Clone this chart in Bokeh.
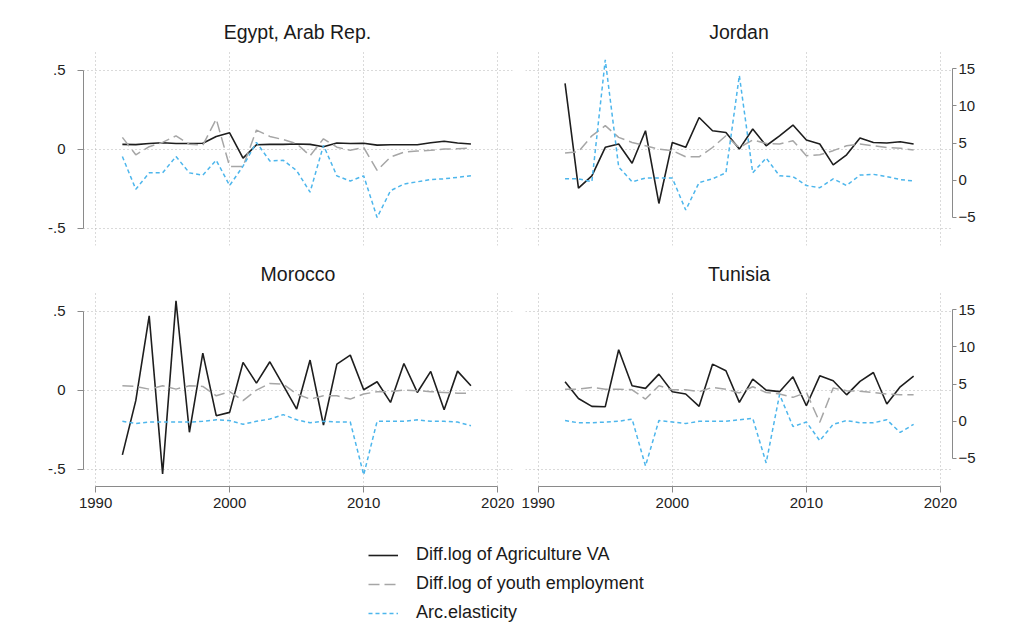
from bokeh.plotting import figure
from bokeh.models import Range1d, LinearAxis, FixedTicker, Legend, LegendItem
from bokeh.layouts import column, row
from bokeh.embed import file_html
from bokeh.resources import INLINE

years = list(range(1992, 2019))

# Diff.log of Agriculture value added (left axis)
egypt_agri = [0.03, 0.028, 0.035, 0.04, 0.035, 0.035, 0.037, 0.08, 0.103, -0.057, 0.027, 0.03, 0.03,
              0.032, 0.03, 0.015, 0.038, 0.035, 0.037, 0.025, 0.027, 0.027, 0.027, 0.04, 0.05, 0.038, 0.032]
jordan_agri = [0.416, -0.247, -0.169, 0.011, 0.032, -0.09, 0.116, -0.344, 0.042, 0.011, 0.2, 0.116, 0.105,
               0.0, 0.127, 0.021, 0.084, 0.152, 0.057, 0.032, -0.1, -0.036, 0.07, 0.042, 0.038, 0.046, 0.032]
morocco_agri = [-0.41, -0.067, 0.47, -0.53, 0.564, -0.267, 0.234, -0.162, -0.141, 0.175, 0.044, 0.179, 0.03,
                -0.12, 0.19, -0.221, 0.164, 0.221, 0.002, 0.053, -0.078, 0.168, -0.015, 0.118, -0.124, 0.12, 0.027]
tunisia_agri = [0.053, -0.053, -0.103, -0.105, 0.255, 0.027, 0.011, 0.101, -0.011, -0.025, -0.103, 0.164, 0.122,
                -0.078, 0.069, 0.0, -0.01, 0.084, -0.099, 0.09, 0.059, -0.03, 0.055, 0.111, -0.088, 0.021, 0.088]

# Diff.log of youth employment (left axis)
egypt_youth = [0.074, -0.036, 0.015, 0.042, 0.084, 0.03, 0.025, 0.19, -0.11, -0.11, 0.12, 0.08, 0.06,
               0.034, -0.042, 0.065, 0.012, -0.008, 0.01, -0.135, -0.05, -0.02, -0.012, -0.008, 0.0, 0.002, 0.006]
jordan_youth = [-0.025, -0.017, 0.084, 0.148, 0.074, 0.042, 0.021, 0.0, -0.01, -0.049, -0.049, 0.01, 0.084,
                0.01, 0.057, 0.036, 0.032, 0.053, -0.042, -0.036, -0.01, 0.021, 0.032, 0.021, 0.01, 0.006, -0.006]
morocco_youth = [0.027, 0.023, 0.006, 0.027, 0.006, 0.027, 0.023, -0.036, -0.01, -0.067, 0.0, 0.042, 0.038,
                 -0.025, -0.057, -0.036, -0.036, -0.057, -0.025, -0.01, -0.01, 0.0, -0.004, -0.01, -0.015, -0.02, -0.02]
tunisia_youth = [0.006, 0.006, 0.017, 0.006, 0.006, 0.002, -0.057, 0.027, 0.002, 0.002, -0.01, 0.017, 0.006,
                 -0.018, 0.021, -0.015, -0.025, -0.046, -0.015, -0.204, 0.013, -0.004, -0.008, -0.015, -0.025, -0.03, -0.03]

# Arc elasticity (right axis)
egypt_arc = [3.2, -1.2, 1.0, 1.0, 3.2, 1.0, 0.7, 2.7, -0.7, 1.9, 5.1, 2.6, 2.7,
             1.3, -1.6, 4.7, 0.6, -0.1, 0.6, -5.0, -1.4, -0.5, -0.2, 0.1, 0.2, 0.4, 0.6]
jordan_arc = [0.2, 0.2, -0.2, 16.2, 1.8, -0.2, 0.3, 0.3, 0.3, -4.0, -0.3, 0.2, 1.0,
              14.1, 1.0, 3.0, 0.6, 0.5, -0.7, -1.0, 0.2, -0.7, 0.7, 0.8, 0.5, 0.1, -0.1]
morocco_arc = [0.0, -0.3, -0.1, -0.1, -0.1, -0.1, 0.0, 0.2, 0.1, -0.4, 0.0, 0.3, 0.9,
               0.2, -0.2, 0.0, -0.1, -0.1, -7.2, 0.0, 0.0, 0.0, 0.2, 0.0, 0.0, -0.1, -0.6]
tunisia_arc = [0.1, -0.2, -0.2, -0.1, 0.0, 0.3, -6.0, 0.1, -0.1, -0.3, 0.0, 0.0, 0.0,
               0.2, 0.4, -5.6, 3.6, -0.7, -0.1, -2.6, -0.4, 0.1, -0.2, -0.2, 0.2, -1.5, -0.4]

left_ticks = [-0.5, 0, 0.5]
left_tick_labels = {-0.5: "-.5", 0: "0", 0.5: ".5"}
right_ticks = [-5, 0, 5, 10, 15]
year_ticks = [1990, 2000, 2010, 2020]

legend_labels = ["Diff.log of Agriculture VA", "Diff.log of youth employment", "Arc.elasticity"]

FONT = "Liberation Sans"
AGRI_STYLE = dict(line_color="#1e1e1e", line_width=1.6)
YOUTH_STYLE = dict(line_color="#a6a6a6", line_width=1.5, line_dash="11 5")
ARC_STYLE = dict(line_color="#4db6ec", line_width=1.5, line_dash="4 3")
AXIS_COLOR = "#8a8a8a"
GRID_COLOR = "#b4b4b4"

L_RANGE = (-0.61, 0.63)
# right-axis values relate to the left axis by a fixed linear map
R_OFF, R_SCALE = 4.2, 21.26
R_RANGE = (R_OFF + R_SCALE * L_RANGE[0], R_OFF + R_SCALE * L_RANGE[1])


def style_axis(ax, size="15px"):
    ax.axis_line_color = AXIS_COLOR
    ax.major_tick_line_color = AXIS_COLOR
    ax.minor_tick_line_color = None
    ax.major_tick_in = 0
    ax.major_label_text_font = FONT
    ax.major_label_text_font_size = size
    ax.major_label_text_color = "#222222"


def panel(title, agri, youth, arc, left_col, bottom_row):
    width = 518 if left_col else 496
    height = 270 if bottom_row else 250
    xr = Range1d(1989.1, 2021.1) if left_col else Range1d(1989.05, 2020.9)
    p = figure(width=width, height=height, x_range=xr, y_range=Range1d(*L_RANGE),
               x_axis_location=None, y_axis_location=None,
               output_backend="svg", toolbar_location=None, title=title)
    p.extra_y_ranges = {"arc": Range1d(*R_RANGE)}
    p.min_border_left = 83 if left_col else 7
    p.min_border_right = 6 if left_col else 62
    p.min_border_top = 40 if bottom_row else 49
    p.min_border_bottom = 34 if bottom_row else 5
    p.outline_line_color = None
    p.background_fill_color = "white"
    p.border_fill_color = "white"

    p.title.align = "center"
    p.title.text_font = FONT
    p.title.text_font_size = "19.5px"
    p.title.text_font_style = "normal"
    p.title.text_color = "#1a1a1a"
    p.title.standoff = 12 if bottom_row else 14

    p.xgrid.ticker = FixedTicker(ticks=year_ticks)
    p.ygrid.ticker = FixedTicker(ticks=left_ticks)
    for g in (p.xgrid, p.ygrid):
        g.grid_line_color = GRID_COLOR
        g.grid_line_dash = "1 3"
        g.grid_line_width = 1

    if left_col:
        ax = LinearAxis(ticker=FixedTicker(ticks=left_ticks), major_label_overrides=left_tick_labels,
                        bounds=(-0.5, 0.5))
        style_axis(ax)
        ax.major_tick_out = 6
        ax.major_label_standoff = 12
        p.add_layout(ax, "left")
    else:
        ax = LinearAxis(ticker=FixedTicker(ticks=right_ticks), y_range_name="arc", bounds=(-5, 15))
        style_axis(ax)
        ax.major_tick_out = 4
        ax.major_label_standoff = 2
        p.add_layout(ax, "right")

    if bottom_row:
        bx = LinearAxis(ticker=FixedTicker(ticks=year_ticks), bounds=(1990, 2020))
        style_axis(bx)
        bx.major_tick_out = 6
        bx.major_label_standoff = 5
        p.add_layout(bx, "below")

    p.line(years, agri, **AGRI_STYLE)
    p.line(years, youth, **YOUTH_STYLE)
    p.line(years, arc, y_range_name="arc", **ARC_STYLE)
    return p


p_egy = panel("Egypt, Arab Rep.", egypt_agri, egypt_youth, egypt_arc, True, False)
p_jor = panel("Jordan", jordan_agri, jordan_youth, jordan_arc, False, False)
p_mor = panel("Morocco", morocco_agri, morocco_youth, morocco_arc, True, True)
p_tun = panel("Tunisia", tunisia_agri, tunisia_youth, tunisia_arc, False, True)

# legend strip under the panels; its key renderers sit outside the visible range
p_leg = figure(width=1014, height=102, x_range=Range1d(0, 1), y_range=Range1d(0, 1),
               x_axis_location=None, y_axis_location=None,
               output_backend="svg", toolbar_location=None)
p_leg.min_border = 0
p_leg.outline_line_color = None
p_leg.xgrid.visible = False
p_leg.ygrid.visible = False
r1 = p_leg.line([-5, -4], [-5, -4], **AGRI_STYLE)
r2 = p_leg.line([-5, -4], [-5, -4], **YOUTH_STYLE)
r3 = p_leg.line([-5, -4], [-5, -4], **ARC_STYLE)
legend = Legend(items=[LegendItem(label=legend_labels[0], renderers=[r1]),
                       LegendItem(label=legend_labels[1], renderers=[r2]),
                       LegendItem(label=legend_labels[2], renderers=[r3])],
                location=(368, -1), orientation="vertical",
                glyph_width=30, glyph_height=20, label_height=20, spacing=8,
                padding=0, margin=0, label_standoff=18,
                border_line_alpha=0, background_fill_alpha=0,
                label_text_font=FONT, label_text_font_size="18px", label_text_color="#1a1a1a")
p_leg.add_layout(legend, "center")

layout = column(row(p_egy, p_jor), row(p_mor, p_tun), p_leg)

open("out.html", "w").write(file_html(layout, INLINE))
